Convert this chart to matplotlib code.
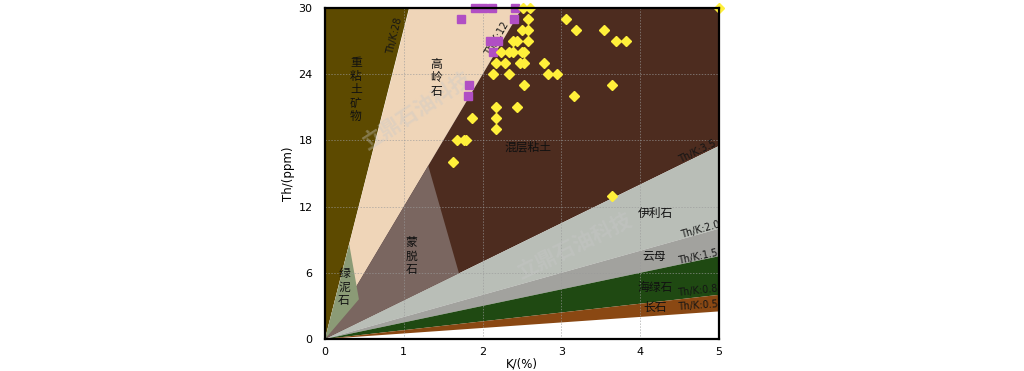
import matplotlib.pyplot as plt
from matplotlib.patches import Polygon

plt.rcParams['font.family'] = ['Noto Sans CJK SC', 'DejaVu Sans']

# Th/K boundary lines
ratios = [28, 12, 3.5, 2.0, 1.5, 0.8, 0.5]
ratio_labels = ['Th/K:28', 'Th/K:12', 'Th/K:3.5', 'Th/K:2.0', 'Th/K:1.5', 'Th/K:0.8', 'Th/K:0.5']

# measured samples (K %, Th ppm)
diamond_k = [2.51, 2.60, 5.00, 2.57, 3.06, 2.50, 2.58, 3.19, 3.54,
             2.38, 2.43, 2.57, 3.69, 3.82, 2.23, 2.33, 2.38, 2.50, 2.53,
             2.17, 2.28, 2.47, 2.53, 2.78, 2.13, 2.33, 2.83, 2.94,
             2.53, 3.64, 3.16, 2.17, 2.44, 1.87, 2.17, 2.17,
             1.67, 1.76, 1.79, 1.62, 3.64]
diamond_th = [30, 30, 30, 29, 29, 28, 28, 28, 28,
              27, 27, 27, 27, 27, 26, 26, 26, 26, 26,
              25, 25, 25, 25, 25, 24, 24, 24, 24,
              23, 23, 22, 21, 21, 20, 20, 19,
              18, 18, 18, 16, 13]

square_k = [1.90, 2.00, 2.12, 2.41, 1.72, 2.40, 2.09, 2.19, 2.13, 1.83, 1.81]
square_th = [30, 30, 30, 30, 29, 29, 27, 27, 26, 23, 22]

# apex points of the two inner triangles
montmorillonite_apex = [(1.31, 15.7), (1.70, 5.95)]
chlorite_apex = [(0.307, 8.6), (0.43, 3.6)]

K_MAX, TH_MAX = 5, 30


def edge(r):
    k = min(K_MAX, TH_MAX / r)
    return (k, r * k)


fig = plt.figure(figsize=(10.24, 3.71), dpi=100)
ax = fig.add_axes([0.3174, 0.0863, 0.3848, 0.8921])
ax.set_xlim(0, K_MAX)
ax.set_ylim(0, TH_MAX)

o = (0, 0)
zones = [
    ([o, (0, TH_MAX), edge(28)], '#5d4a00'),
    ([o, edge(28), edge(12)], '#efd5b8'),
    ([o, edge(12), (K_MAX, TH_MAX), edge(3.5)], '#4d2c1f'),
    ([o, edge(3.5), edge(2.0)], '#b9beb7'),
    ([o, edge(2.0), edge(1.5)], '#a2a29e'),
    ([o, edge(1.5), edge(0.8)], '#1f4912'),
    ([o, edge(0.8), edge(0.5)], '#8a4813'),
    ([o] + montmorillonite_apex, '#7a6660'),
    ([o] + chlorite_apex, '#8b9b76'),
]
for pts, c in zones:
    ax.add_patch(Polygon(pts, closed=True, facecolor=c, edgecolor='none', zorder=1))

# grid over the fills
for x in [1, 2, 3, 4]:
    ax.axvline(x, color='#9a9a9a', lw=0.7, ls=(0, (1.5, 1.5)), alpha=0.6, zorder=2)
for y in [6, 12, 18, 24]:
    ax.axhline(y, color='#9a9a9a', lw=0.7, ls=(0, (1.5, 1.5)), alpha=0.6, zorder=2)

# watermark
ax.text(1.16, 20.6, '立鼎石油科技', fontsize=15, fontweight='bold', color='#c8c8c8',
        alpha=0.38, rotation=33, ha='center', va='center', zorder=3)
ax.text(3.17, 8.4, '立鼎石油科技', fontsize=15, fontweight='bold', color='#c8c8c8',
        alpha=0.38, rotation=26, ha='center', va='center', zorder=3)

# mineral names
names = [
    ('\n'.join('重粘土矿物'), 0.39, 22.6),
    ('\n'.join('高岭石'), 1.41, 23.7),
    ('混层粘土', 2.58, 17.4),
    ('\n'.join('蒙脱石'), 1.10, 7.5),
    ('\n'.join('绿泥石'), 0.24, 4.7),
    ('伊利石', 4.19, 11.4),
    ('云母', 4.18, 7.5),
    ('海绿石', 4.19, 4.7),
    ('长石', 4.19, 2.9),
]
for s, x, y in names:
    ax.text(x, y, s, fontsize=8.5, color='#111111', ha='center', va='center',
            linespacing=1.05, zorder=4)

# Th/K line labels
lab_pos = [(0.89, 27.5, 76), (2.18, 27.2, 59.5), (4.73, 17.0, 26), (4.76, 9.9, 15.7),
           (4.73, 7.45, 12), (4.73, 4.4, 6.4), (4.73, 3.0, 4)]
for s, (x, y, a) in zip(ratio_labels, lab_pos):
    ax.text(x, y, s, fontsize=7, color='#151515', rotation=a, ha='center', va='center',
            family=['DejaVu Sans'], zorder=4)

ax.plot(square_k, square_th, ls='none', marker='s', ms=5.5, color='#b14fc4', zorder=5, clip_on=False)
ax.plot(diamond_k, diamond_th, ls='none', marker='D', ms=5, color='#fff03a', zorder=6, clip_on=False)

ax.set_xticks(range(0, 6))
ax.set_yticks(range(0, 31, 6))
ax.tick_params(axis='y', length=0, labelsize=8, pad=9)
ax.tick_params(axis='x', length=0, labelsize=8, pad=6)
for lab in ax.get_xticklabels() + ax.get_yticklabels():
    lab.set_family('DejaVu Sans')
for sp in ax.spines.values():
    sp.set_linewidth(1.6)
    sp.set_color('black')
    sp.set_zorder(7)
ax.set_xlabel('K/(%)', fontsize=8.5, family='DejaVu Sans', labelpad=0)
ax.set_ylabel('Th/(ppm)', fontsize=8.5, family='DejaVu Sans', labelpad=2)

fig.savefig('out.png', dpi=100)
